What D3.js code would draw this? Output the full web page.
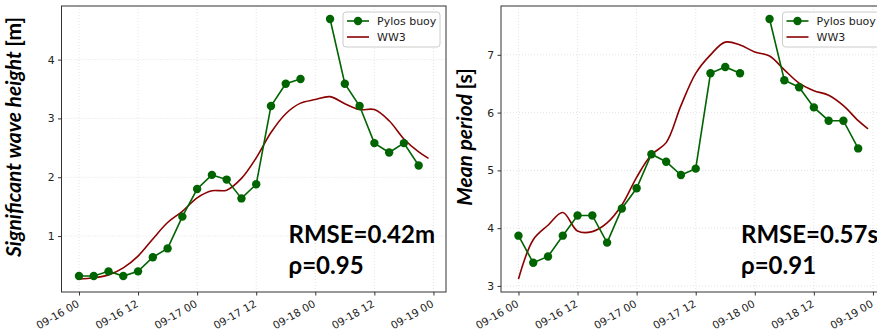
<!DOCTYPE html>
<html>
<head>
<meta charset="utf-8">
<script src="https://cdn.jsdelivr.net/npm/d3@7"></script>
<style>
  body { margin: 0; background: #fff; }
  svg { display: block; }
</style>
</head>
<body>
<svg id="chart" width="877" height="333"></svg>
<script>
// hours since 2020-09-16 00:00
const buoyHours = [0, 3, 6, 9, 12, 15, 18, 21, 24, 27, 30, 33, 36, 39, 42, 45, 48, 51, 54, 57, 60, 63, 66, 69];
const buoyHs = [0.32, 0.32, 0.40, 0.32, 0.40, 0.64, 0.79, 1.33, 1.80, 2.04, 1.96, 1.64, 1.88, 3.21, 3.59, 3.67,
  null, 4.69, 3.59, 3.21, 2.58, 2.42, 2.58, 2.20];
const buoyTm = [3.87, 3.40, 3.51, 3.87, 4.22, 4.22, 3.75, 4.34, 4.69, 5.28, 5.15, 4.92, 5.03, 6.68, 6.79, 6.68,
  null, 7.62, 6.56, 6.44, 6.09, 5.86, 5.86, 5.38];

const ww3Hours = [0, 3, 6, 9, 12, 15, 18, 21, 24, 27, 30, 33, 36, 39, 42, 45, 48, 51, 54, 57, 60, 63, 66, 69, 71];
const ww3Hs = [0.27, 0.29, 0.34, 0.46, 0.66, 0.95, 1.23, 1.42, 1.65, 1.77, 1.78, 1.98, 2.33, 2.76, 3.08, 3.26,
  3.32, 3.37, 3.25, 3.15, 3.15, 2.96, 2.65, 2.43, 2.32];
const ww3Tm = [3.12, 3.80, 4.05, 4.27, 3.95, 3.94, 4.09, 4.40, 4.88, 5.27, 5.48, 6.12, 6.68, 7.00, 7.22, 7.17,
  7.05, 6.98, 6.74, 6.51, 6.38, 6.30, 6.12, 5.86, 5.72];

const yTicksHs = [1, 2, 3, 4];
const yTicksTm = [3, 4, 5, 6, 7];
const legendLabels = ["Pylos buoy", "WW3"];

const t0 = new Date(2020, 8, 16, 0, 0);
const toDate = h => new Date(t0.getTime() + h * 3600e3);
const fmt = d3.timeFormat("%m-%d %H");

const buoyColor = "#006400";
const ww3Color = "#8b0000";

const svg = d3.select("#chart");

// matplotlib-like 5% margins
function padded(ext) {
  const m = (ext[1] - ext[0]) * 0.05;
  return [ext[0] - m, ext[1] + m];
}

function panel(opts) {
  const {left, top, w, h, buoy, model, yTicks, yLabel, yUnit, rmse, rho, textX} = opts;
  const g = svg.append("g").attr("transform", `translate(${left},${top})`);

  const allH = buoyHours.concat(ww3Hours);
  const hExt = padded(d3.extent(allH));
  const x = d3.scaleTime([toDate(hExt[0]), toDate(hExt[1])], [0, w]);
  const vals = buoy.filter(v => v != null).concat(model);
  const y = d3.scaleLinear(padded(d3.extent(vals)), [h, 0]);

  const xTicks = x.ticks(d3.timeHour.every(12));

  // grid
  g.append("g").selectAll("line.gx").data(xTicks).join("line")
    .attr("x1", d => x(d)).attr("x2", d => x(d)).attr("y1", 0).attr("y2", h)
    .attr("stroke", "#dcdcdc").attr("stroke-width", 0.8).attr("stroke-dasharray", "1,2");
  g.append("g").selectAll("line.gy").data(yTicks).join("line")
    .attr("x1", 0).attr("x2", w).attr("y1", d => y(d)).attr("y2", d => y(d))
    .attr("stroke", "#dcdcdc").attr("stroke-width", 0.8).attr("stroke-dasharray", "1,2");

  // model line
  const mLine = d3.line()
    .x((d, i) => x(toDate(ww3Hours[i])))
    .y(d => y(d))
    .curve(d3.curveCatmullRom.alpha(0.5));
  g.append("path").datum(model)
    .attr("d", mLine).attr("fill", "none")
    .attr("stroke", ww3Color).attr("stroke-width", 1.6);

  // buoy line + markers
  const bLine = d3.line()
    .defined(d => d != null)
    .x((d, i) => x(toDate(buoyHours[i])))
    .y(d => y(d));
  g.append("path").datum(buoy)
    .attr("d", bLine).attr("fill", "none")
    .attr("stroke", buoyColor).attr("stroke-width", 1.6);
  g.append("g").selectAll("circle")
    .data(buoy.map((v, i) => ({v, hr: buoyHours[i]})).filter(d => d.v != null))
    .join("circle")
    .attr("cx", d => x(toDate(d.hr))).attr("cy", d => y(d.v))
    .attr("r", 4.2).attr("fill", buoyColor);

  // frame
  g.append("rect").attr("width", w).attr("height", h)
    .attr("fill", "none").attr("stroke", "#333").attr("stroke-width", 1);

  // axes
  const xa = g.append("g").attr("transform", `translate(0,${h})`)
    .call(d3.axisBottom(x).tickValues(xTicks).tickSize(3.5).tickFormat(""));
  xa.select(".domain").remove();
  xa.selectAll(".tick line").attr("stroke", "#333");
  g.append("g").selectAll("text.xl").data(xTicks).join("text")
    .attr("transform", d => `translate(${x(d) + 1},${h + 14}) rotate(-30)`)
    .attr("text-anchor", "end")
    .attr("font-family", "DejaVu Sans").attr("font-size", 10.5).attr("fill", "#222")
    .text(d => fmt(d));

  const ya = g.append("g")
    .call(d3.axisLeft(y).tickValues(yTicks).tickSize(3.5).tickPadding(3.5).tickFormat(d3.format("d")));
  ya.select(".domain").remove();
  ya.selectAll(".tick line").attr("stroke", "#333");
  ya.selectAll(".tick text").attr("font-family", "DejaVu Sans").attr("font-size", 10.8).attr("fill", "#222");

  // y label
  const lab = g.append("text")
    .attr("transform", `translate(${-opts.labelOffset},${h / 2 - 12}) rotate(-90)`)
    .attr("text-anchor", "middle")
    .attr("font-family", "Lato, 'Open Sans', sans-serif")
    .attr("font-weight", "bold").attr("font-size", 21).attr("fill", "#000");
  lab.append("tspan").attr("font-style", "italic").text(yLabel + " ");
  lab.append("tspan").text(yUnit);

  // stats
  const st = g.append("g").attr("font-family", "Lato, 'Open Sans', sans-serif")
    .attr("font-weight", "bold").attr("font-size", 24).attr("fill", "#000");
  st.append("text").attr("x", textX).attr("y", 243 - top).text(rmse);
  st.append("text").attr("x", textX).attr("y", 274 - top).text(rho);

  // legend
  const lg = g.append("g").attr("transform", `translate(${w - 103},6)`);
  lg.append("rect").attr("width", 97).attr("height", 35).attr("rx", 3)
    .attr("fill", "#fff").attr("fill-opacity", 0.8).attr("stroke", "#ccc");
  const items = lg.selectAll("g.it").data(legendLabels).join("g")
    .attr("transform", (d, i) => `translate(4,${9 + i * 16})`);
  items.append("line").attr("x1", 0).attr("x2", 22)
    .attr("stroke", (d, i) => i === 0 ? buoyColor : ww3Color).attr("stroke-width", 1.6);
  items.filter((d, i) => i === 0).append("circle").attr("cx", 11).attr("r", 4.2).attr("fill", buoyColor);
  items.append("text").attr("x", 30).attr("dy", "0.35em")
    .attr("font-family", "DejaVu Sans").attr("font-size", 11).attr("fill", "#222")
    .text(d => d);
}

panel({left: 61.5, top: 6, w: 384.5, h: 286, buoy: buoyHs, model: ww3Hs, yTicks: yTicksHs,
  yLabel: "Significant wave height", yUnit: "[m]", rmse: "RMSE=0.42m", rho: "ρ=0.95", textX: 227, labelOffset: 41});
panel({left: 501, top: 6, w: 384.5, h: 286, buoy: buoyTm, model: ww3Tm, yTicks: yTicksTm,
  yLabel: "Mean period", yUnit: "[s]", rmse: "RMSE=0.57s", rho: "ρ=0.91", textX: 240, labelOffset: 29});
</script>
</body>
</html>
